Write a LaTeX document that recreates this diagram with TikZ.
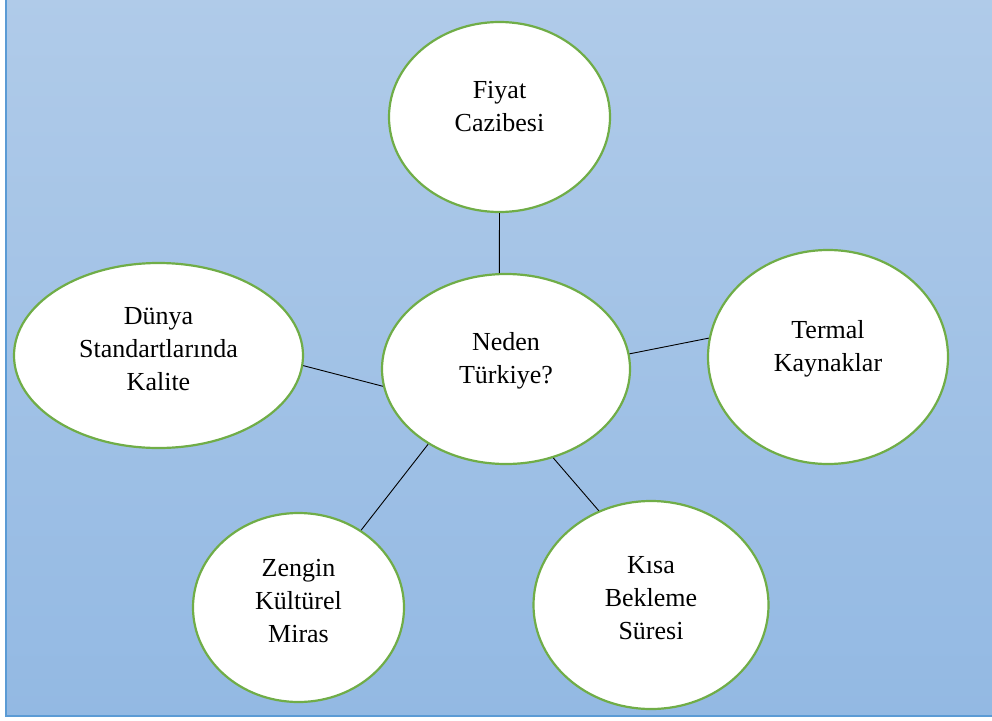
\documentclass[tikz,border=0pt]{standalone}
\usepackage{fontspec}
\setmainfont{Liberation Serif}
\usetikzlibrary{shapes.geometric}
\definecolor{bgtop}{RGB}{176,203,233}
\definecolor{bgbot}{RGB}{147,185,227}
\definecolor{frame}{RGB}{91,155,213}
\definecolor{leaf}{RGB}{112,173,71}
\begin{document}
\begin{tikzpicture}[x=1pt,y=-1pt,
        reason/.style={ellipse,draw=leaf,line width=2.2pt,fill=white,inner sep=0pt,
          align=center,font=\fontsize{26}{33}\selectfont,text depth=10pt},
        twoline/.style={reason,text height=38pt},
        threeline/.style={reason,text height=79pt},
        link/.style={line width=0.9pt}
        ]
    \useasboundingbox (0,0) rectangle (992,720);
    \shade[top color=bgtop,bottom color=bgbot] (6,-5) rectangle (1000,716);
    \draw[frame,line width=1.5pt] (6,-5) -- (6,716) -- (1000,716);

        \node (neden) at (506, 369) [twoline,minimum width=248pt,minimum height=190pt] {Neden\\Türkiye?};
        \node (fiyat) at (499.5, 117) [twoline,minimum width=221pt,minimum height=190pt] {Fiyat\\Cazibesi};
        \node (dunya) at (158.5, 355.5) [threeline,minimum width=289pt,minimum height=185pt] {Dünya\\Standartlarında\\Kalite};
        \node (termal) at (828, 357) [twoline,minimum width=240pt,minimum height=214pt] {Termal\\Kaynaklar};
        \node (zengin) at (298.5, 607.5) [threeline,minimum width=211pt,minimum height=189pt] {Zengin\\Kültürel\\Miras};
        \node (kisa) at (651, 605) [threeline,minimum width=235pt,minimum height=208pt] {Kısa\\Bekleme\\Süresi};
        \draw[link] (fiyat.-90.9) to (neden.94.8);
        \draw[link] (dunya.-4.6) to (neden.188.3);
        \draw[link] (neden.7.4) to (termal.171.9);
        \draw[link] (neden.224.7) to (zengin.51.9);
        \draw[link] (neden.-62.9) to (kisa.119.7);
      \end{tikzpicture}
\end{document}
